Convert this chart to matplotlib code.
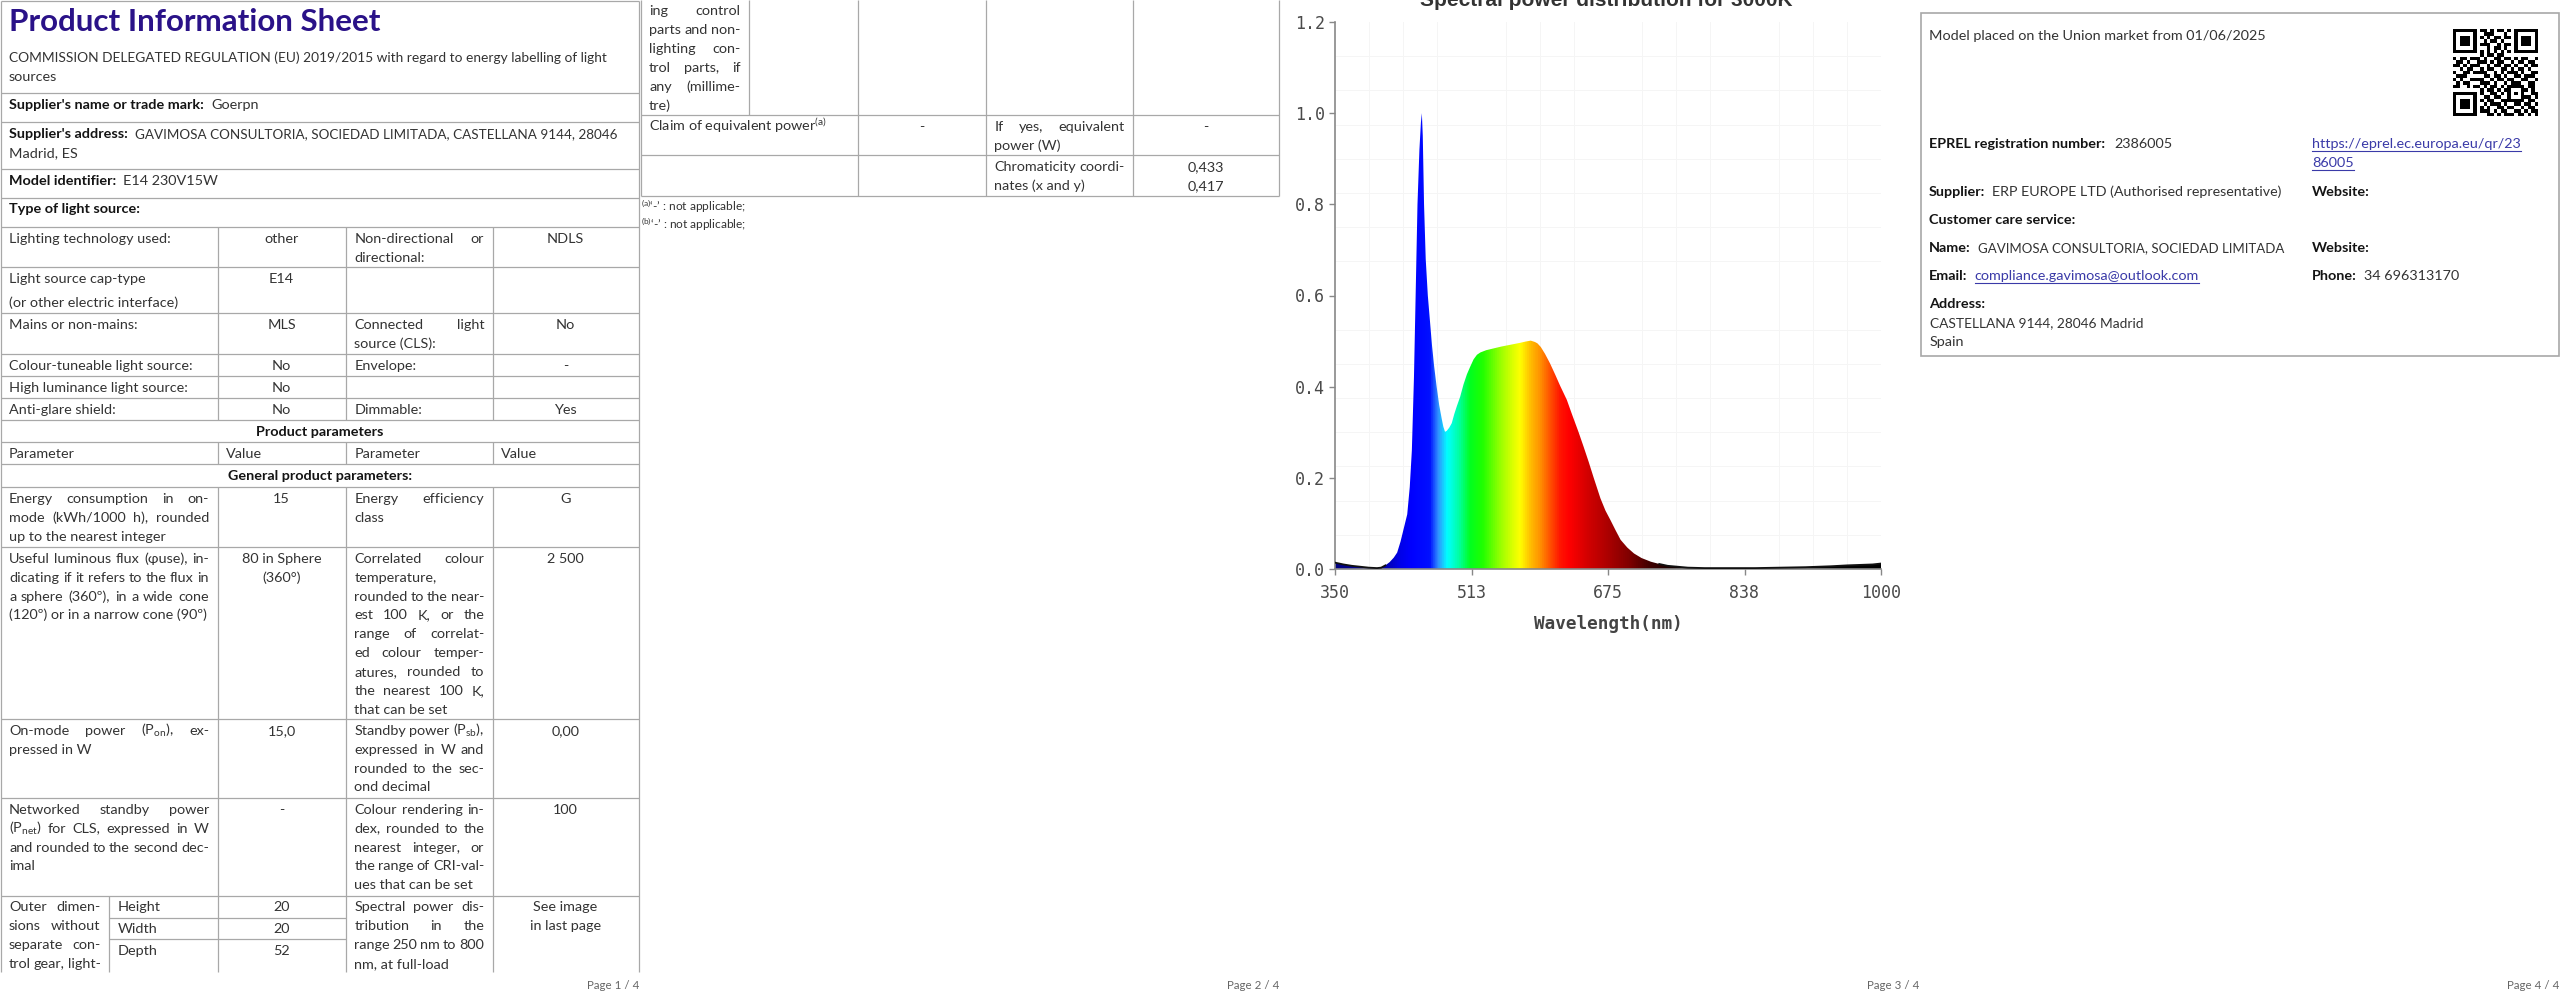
import matplotlib
matplotlib.use("Agg")
import matplotlib.pyplot as plt
import numpy as np
from matplotlib.colors import LinearSegmentedColormap
from matplotlib.patches import Polygon, Rectangle

# ---- spectrum (page 3) ----
wavelength = [350, 355, 360, 370, 380, 390, 400, 405, 410, 415, 420, 424, 428, 432,
              436, 439, 441.5, 444, 446, 448.2, 450.5, 452.3, 453.4, 454.5, 456, 458,
              460.5, 463, 465.5, 468, 471, 474, 477, 479, 481, 483, 486, 489, 492,
              495, 499, 503, 507, 511, 515, 519, 523, 530, 539, 548, 559, 570, 577,
              583, 588, 591, 595, 600, 606, 612, 618, 626, 632, 640, 646, 652, 658,
              666, 672, 678, 684, 690, 698, 706, 715, 726, 736, 746, 758, 770, 790,
              820, 850, 880, 910, 940, 960, 975, 990, 1000]
power = [0.014, 0.012, 0.010, 0.007, 0.005, 0.003, 0.002, 0.003, 0.008, 0.015, 0.025,
         0.036, 0.060, 0.090, 0.120, 0.180, 0.260, 0.420, 0.600, 0.800, 0.920, 0.980,
         1.000, 0.950, 0.800, 0.680, 0.600, 0.545, 0.490, 0.445, 0.400, 0.360, 0.330,
         0.312, 0.301, 0.303, 0.310, 0.320, 0.340, 0.357, 0.378, 0.405, 0.427, 0.444,
         0.460, 0.470, 0.475, 0.480, 0.484, 0.488, 0.492, 0.496, 0.499, 0.501, 0.498,
         0.495, 0.487, 0.472, 0.451, 0.427, 0.402, 0.371, 0.340, 0.300, 0.268, 0.235,
         0.200, 0.155, 0.128, 0.107, 0.085, 0.064, 0.047, 0.034, 0.024, 0.016, 0.011,
         0.007, 0.005, 0.003, 0.002, 0.002, 0.002, 0.003, 0.004, 0.006, 0.008, 0.009,
         0.010, 0.012]

# colour of the filled area along the wavelength axis
band_nm = [350, 405, 425, 440, 462, 472, 483, 497, 510, 525, 545, 560, 570, 582, 594,
           606, 618, 628, 650, 672, 700, 725, 750, 780, 1000]
band_col = ["#000080", "#0000a0", "#0000e6", "#0000ff", "#0010ff", "#3090ff", "#00ffff",
            "#00ffa0", "#00ff20", "#20ff00", "#90ff00", "#d8ff00", "#ffff00", "#ffc000",
            "#ff9000", "#ff5000", "#ff1500", "#ff0000", "#d40000", "#b00000", "#800000",
            "#400000", "#180000", "#000000", "#000000"]

x_ticks = [350, 512.5, 675, 837.5, 1000]
x_tick_labels = ["350", "513", "675", "838", "1000"]
y_ticks = [0.0, 0.2, 0.4, 0.6, 0.8, 1.0, 1.2]
y_tick_labels = ["0.0", "0.2", "0.4", "0.6", "0.8", "1.0", "1.2"]

# ---- page 1 / 2 table text ----
type_rows = [
    (227, ["Lighting technology used:"], ["other"], ["Non-directional or", "directional:"], ["NDLS"]),
    (267, ["Light source cap-type", "(or other electric interface)"], ["E14"], [], []),
    (313, ["Mains or non-mains:"], ["MLS"], ["Connected light", "source (CLS):"], ["No"]),
    (354, ["Colour-tuneable light source:"], ["No"], ["Envelope:"], ["-"]),
    (376, ["High luminance light source:"], ["No"], [], []),
    (398, ["Anti-glare shield:"], ["No"], ["Dimmable:"], ["Yes"]),
]
general_rows = [
    (487, ["Energy consumption in on-", "mode (kWh/1000 h), rounded", "up to the nearest integer"],
     ["15"], ["Energy efficiency", "class"], ["G"]),
    (547, ["Useful luminous flux (φuse), in-", "dicating if it refers to the flux in",
           "a sphere (360º), in a wide cone", "(120º) or in a narrow cone (90º)"],
     ["80 in Sphere", "(360°)"],
     ["Correlated colour", "temperature,", "rounded to the near-", "est 100 K, or the",
      "range of correlat-", "ed colour temper-", "atures, rounded to", "the nearest 100 K,",
      "that can be set"], ["2 500"]),
    (719, ["On-mode power (P$_{\\mathrm{on}}$), ex-", "pressed in W"], ["15,0"],
     ["Standby power (P$_{\\mathrm{sb}}$),", "expressed in W and", "rounded to the sec-", "ond decimal"],
     ["0,00"]),
    (798, ["Networked standby power", "(P$_{\\mathrm{net}}$) for CLS, expressed in W",
           "and rounded to the second dec-", "imal"], ["-"],
     ["Colour rendering in-", "dex, rounded to the", "nearest integer, or", "the range of CRI-val-",
      "ues that can be set"], ["100"]),
]
dim_names = ["Height", "Width", "Depth"]
dim_values = ["20", "20", "52"]
dim_text_p1 = ["Outer dimen-", "sions without", "separate con-", "trol gear, light-"]
dim_text_p2 = ["ing control", "parts and non-", "lighting con-", "trol parts, if", "any (millime-", "tre)"]
spd_text = ["Spectral power dis-", "tribution in the", "range 250 nm to 800", "nm, at full-load"]

plt.rcParams['font.family'] = ['Lato', 'DejaVu Sans']
plt.rcParams['mathtext.fontset'] = 'custom'
plt.rcParams['mathtext.rm'] = 'Lato'
plt.rcParams['mathtext.it'] = 'Lato:italic'
plt.rcParams['mathtext.bf'] = 'Lato:bold'

W, H = 2560, 1001
fig = plt.figure(figsize=(W / 100, H / 100), dpi=100)
ax = fig.add_axes([0, 0, 1, 1])
ax.set_xlim(0, W)
ax.set_ylim(H, 0)
ax.axis('off')
r = fig.canvas.get_renderer()

TXT = "#333333"
BLD = "#141414"
GRID = "#a8a8a8"
LINK = "#3a3aa8"
LINE = 18.9


def wid(t):
    return t.get_window_extent(renderer=r).width


def put(x, y, s, size=None, ha='left', weight='normal', color=None, maxw=None, **kw):
    size = size or BODY
    if color is None:
        color = BLD if weight == 'bold' else TXT
    t = ax.text(x, y + 0.36 * size * 100 / 72, s, fontsize=size, ha=ha, va='baseline',
                fontweight=weight, color=color, **kw)
    if maxw is not None:
        w = wid(t)
        if w > maxw:
            t.set_fontsize(size * maxw / w)
    return t


def fit(s, target, weight='normal'):
    t = ax.text(0, 0, s, fontsize=10, fontweight=weight)
    w = wid(t)
    t.remove()
    return 10 * target / w


BODY = np.mean([fit("Lighting technology used:", 161.6),
                fit("(or other electric interface)", 171.8),
                fit("Colour-tuneable light source:", 183.7)])
TITLE = fit("Product Information Sheet", 373, 'bold')


def para(x0, x1, y, lines, justify=False, center=False, dy=LINE):
    for i, line in enumerate(lines):
        yy = y + i * dy
        if center:
            put((x0 + x1) / 2, yy, line, ha='center')
            continue
        words = line.split(' ')
        if not justify or i == len(lines) - 1 or len(words) < 2:
            put(x0, yy, line)
            continue
        ts = [put(x0, yy, w_) for w_ in words]
        ws = [wid(t) for t in ts]
        gap = (x1 - x0 - sum(ws)) / (len(words) - 1)
        xx = x0
        for t, w_ in zip(ts, ws):
            t.set_x(xx)
            xx += w_ + gap


def lab_val(x, y, label, value, link=False, gap=7, end=None):
    t = put(x, y, label, weight='bold')
    xv = x + wid(t) + gap
    t2 = put(xv, y, value, color=LINK if link else TXT,
             maxw=None if end is None else end - xv)
    if link:
        yb = y + 0.36 * BODY * 100 / 72 + 2.5
        ax.plot([xv, xv + wid(t2)], [yb, yb], color=LINK, lw=0.8)


def hline(y, x0, x1):
    ax.plot([x0, x1], [y, y], color=GRID, lw=0.9, solid_capstyle='butt')


def vline(x, y0, y1):
    ax.plot([x, x], [y0, y1], color=GRID, lw=0.9, solid_capstyle='butt')


# ================= page 1 =================
C = [0.5, 217.6, 345.7, 492.7, 638.5]
SUB = 109
PAD = 8.5

put(9, 20, "Product Information Sheet", size=TITLE, weight='bold', color="#2a1288")
put(9, 57, "COMMISSION DELEGATED REGULATION (EU) 2019/2015 with regard to energy labelling of light",
    maxw=599)
put(9, 76, "sources")
lab_val(9, 104, "Supplier's name or trade mark:", "Goerpn")
lab_val(9, 133, "Supplier's address:", "GAVIMOSA CONSULTORIA, SOCIEDAD LIMITADA, CASTELLANA 9144, 28046",
        end=615)
put(9, 152, "Madrid, ES")
lab_val(9, 180, "Model identifier:", "E14 230V15W")
put(9, 208, "Type of light source:", weight='bold')

for y in [1, 93, 122, 169, 198, 227, 267, 313, 354, 376, 398, 420, 442, 464, 487, 547, 719, 798, 896]:
    hline(y, C[0], C[4])
for y in [918, 939]:
    hline(y, SUB, C[2])
vline(C[0], 1, 972)
vline(C[4], 1, 972)
for x in C[1:4]:
    for y0, y1 in [(227, 420), (442, 464), (487, 972)]:
        vline(x, y0, y1)
vline(SUB, 896, 972)

for top, c1, c2, c3, c4 in type_rows:
    y = top + 10.5
    para(C[0] + PAD, C[1] - PAD, y, c1, dy=24 if len(c1) > 1 else LINE)
    para(C[1], C[2], y, c2, center=True)
    para(C[2] + PAD, C[3] - PAD, y, c3, justify=True)
    para(C[3], C[4], y, c4, center=True)

put(320, 431, "Product parameters", ha='center', weight='bold')
for x, s in zip([C[0], C[1], C[2], C[3]], ["Parameter", "Value", "Parameter", "Value"]):
    put(x + PAD, 453, s)
put(320, 475, "General product parameters:", ha='center', weight='bold')

for top, c1, c2, c3, c4 in general_rows:
    y = top + 10.5
    para(C[0] + PAD, C[1] - PAD, y, c1, justify=True)
    para(C[1], C[2], y, c2, center=True)
    para(C[2] + PAD, C[3] - PAD, y, c3, justify=True)
    para(C[3], C[4], y, c4, center=True)

# last row continues on page 2, so every visible line is justified
para(C[0] + PAD, SUB - PAD, 906, dim_text_p1 + ["x"], justify=True)
ax.texts[-1].remove()
for i, (n, v) in enumerate(zip(dim_names, dim_values)):
    yy = [906, 928, 950][i]
    put(SUB + PAD, yy, n)
    put((C[1] + C[2]) / 2, yy, v, ha='center')
para(C[2] + PAD, C[3] - PAD, 906, spd_text, justify=True)
para(C[3], C[4], 906, ["See image", "in last page"], center=True)

# ================= page 2 =================
D = [x + 640 for x in C]
D[0] = 640.5
SUB2 = SUB + 640
for y in [115, 155, 196]:
    hline(y, D[0], D[4])
vline(D[0], 0, 196)
vline(D[4], 0, 196)
for x in D[1:4]:
    vline(x, 0, 196)
vline(SUB2, 0, 115)

para(D[0] + PAD, SUB2 - PAD, 10, dim_text_p2, justify=True)
put(D[0] + PAD, 126, "Claim of equivalent power$^{\\mathrm{(a)}}$")
put((D[1] + D[2]) / 2, 126, "-", ha='center')
para(D[2] + PAD, D[3] - PAD, 126, ["If yes, equivalent", "power (W)"], justify=True)
put((D[3] + D[4]) / 2, 126, "-", ha='center')
para(D[2] + PAD, D[3] - PAD, 166, ["Chromaticity coordi-", "nates (x and y)"], justify=True)
para(D[3], D[4], 166, ["0,433", "0,417"], center=True)
put(641, 207, "$^{\\mathrm{(a)}}$‘-’ : not applicable;", size=BODY * 0.82)
put(641, 225, "$^{\\mathrm{(b)}}$‘-’ : not applicable;", size=BODY * 0.82)

# ================= page 3 : spectrum =================
cax = fig.add_axes([1335 / W, 1 - 569 / H, 546 / W, 547 / H])
cax.set_xlim(350, 1000)
cax.set_ylim(0, 1.2)
wl = np.array(wavelength)
sp = np.array(power)
verts = np.column_stack([np.r_[wl[0], wl, wl[-1]], np.r_[0, sp, 0]])
patch = Polygon(verts, closed=True, facecolor='none', edgecolor='none')
cax.add_patch(patch)
cmap = LinearSegmentedColormap.from_list(
    'spec', [((n - 350) / 650, c) for n, c in zip(band_nm, band_col)])
grad = np.linspace(0, 1, 1300).reshape(1, -1)
im = cax.imshow(grad, cmap=cmap, extent=(350, 1000, 0, 1.2), aspect='auto',
                origin='lower', interpolation='bilinear', zorder=2)
im.set_clip_path(patch)
left = wl <= 412
right = wl >= 730
cax.plot(wl[left], sp[left], color='#111111', lw=1.3, zorder=3)
cax.plot(wl[right], sp[right], color='#111111', lw=1.3, zorder=3)

cax.set_xticks(x_ticks)
cax.set_xticklabels(x_tick_labels)
cax.set_yticks(y_ticks)
cax.set_yticklabels(y_tick_labels)
cax.set_xticks(np.linspace(350, 1000, 17), minor=True)
cax.set_yticks(np.linspace(0, 1.2, 17), minor=True)
cax.grid(which='minor', color='#f5f5f5', lw=0.7)
cax.tick_params(which='minor', length=0)
cax.tick_params(which='major', length=4, width=1, color='#888888', labelcolor='#4a4a4a',
                labelsize=12)
cax.tick_params(axis='x', pad=7)
cax.tick_params(axis='y', pad=3)
for lab in cax.get_xticklabels() + cax.get_yticklabels():
    lab.set_family('DejaVu Sans Mono')
for s in ['top', 'right']:
    cax.spines[s].set_visible(False)
for s in ['left', 'bottom']:
    cax.spines[s].set_color('#888888')
    cax.spines[s].set_linewidth(1.2)
cax.set_xlabel("Wavelength(nm)", family='DejaVu Sans Mono', fontweight='bold',
               fontsize=12.7, color='#444444', labelpad=9)
cax.set_facecolor('white')
# the title sits above the page edge in the reference, only its lower part shows
fig.text(1606 / W, 1 - 5.5 / H, "Spectral power distribution for 3000K", ha='center',
         va='baseline', fontsize=15, fontweight='bold', color='#333333', family='Liberation Sans')

# ================= page 4 =================
ax.add_patch(Rectangle((1920.5, 13), 638, 343, fill=False, edgecolor=GRID, lw=1.2))
XL, XR = 1929, 2312
put(XL, 35, "Model placed on the Union market from 01/06/2025")

qr_rows = [
    "1111111011010110101111111",
    "1000001001110001001000001",
    "1011101010101101101011101",
    "1011101001011010001011101",
    "1011101011100101101011101",
    "1000001000101101001000001",
    "1111111010101010101111111",
    "0000000010110110000000000",
    "1011011101001101101011001",
    "0110100111010110010110110",
    "1101011100101101101001011",
    "0010110010110011010110100",
    "1001101111001010111010011",
    "0111000001101101001101110",
    "1010011110010110110011001",
    "0101100011101001011100110",
    "1100101101011010111110110",
    "0000000010110101100011010",
    "1111111010011010101010011",
    "1000001001101100100011101",
    "1011101010110011111110110",
    "1011101001011101001101101",
    "1011101010100110110010110",
    "1000001011101011001101011",
    "1111111000110101110110101",
]
qr = np.array([[int(ch) for ch in row] for row in qr_rows])
ax.imshow(qr, cmap='gray_r', extent=(2452.7, 2537.7, 115.7, 29), interpolation='nearest',
          aspect='auto', zorder=3)
ax.set_xlim(0, W)
ax.set_ylim(H, 0)

lab_val(XL, 143, "EPREL registration number:", "2386005", gap=9)
for yy, s in [(143, "https://eprel.ec.europa.eu/qr/23"), (162, "86005")]:
    t = put(XR, yy, s, color=LINK, maxw=2522 - XR)
    yb = yy + 0.36 * BODY * 100 / 72 + 2.5
    ax.plot([XR, XR + wid(t)], [yb, yb], color=LINK, lw=0.8)
lab_val(XL, 191, "Supplier:", "ERP EUROPE LTD (Authorised representative)", end=2281)
put(XR, 191, "Website:", weight='bold')
put(XL, 219, "Customer care service:", weight='bold')
lab_val(XL, 247, "Name:", "GAVIMOSA CONSULTORIA, SOCIEDAD LIMITADA", end=2283)
put(XR, 247, "Website:", weight='bold')
lab_val(XL, 275, "Email:", "compliance.gavimosa@outlook.com", link=True, end=2207)
lab_val(XR, 275, "Phone:", "34 696313170")
put(XL, 303, "Address:", weight='bold')
put(XL + 1, 322, "CASTELLANA 9144, 28046 Madrid", maxw=2142 - XL)
put(XL + 1, 341, "Spain")

# page footers
for i in range(1, 5):
    put(640 * i - 1, 985, f"Page {i} / 4", size=BODY * 0.8, ha='right', color='#666666')

fig.savefig("out.png", dpi=100, facecolor='white')
